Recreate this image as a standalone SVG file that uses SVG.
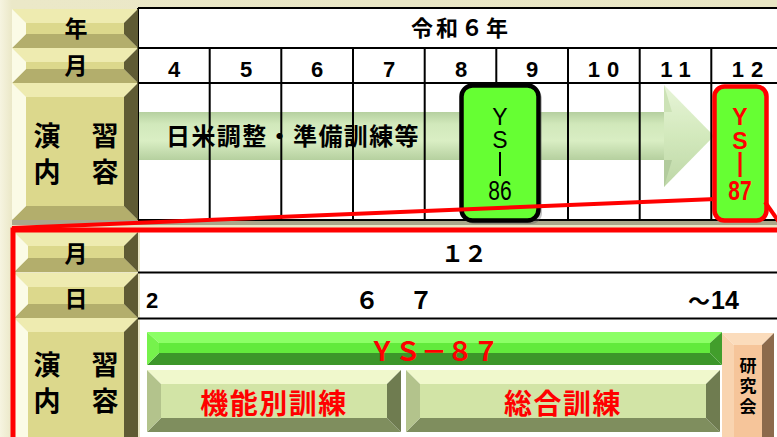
<svg xmlns="http://www.w3.org/2000/svg" width="777" height="437" viewBox="0 0 777 437">
<defs>
<linearGradient id="bg" x1="0" y1="0" x2="1" y2="0"><stop offset="0" stop-color="#f6f4e0"/><stop offset="0.015" stop-color="#ebe8c8"/><stop offset="1" stop-color="#e9e6c4"/></linearGradient>
<linearGradient id="arrowG" x1="0" y1="0" x2="0" y2="1"><stop offset="0" stop-color="#a3c488"/><stop offset="0.25" stop-color="#c6e3aa"/><stop offset="0.6" stop-color="#d0eab5"/><stop offset="1" stop-color="#a3c487"/></linearGradient>
<linearGradient id="headG" x1="0" y1="0" x2="0" y2="1"><stop offset="0" stop-color="#e2f2cf"/><stop offset="0.5" stop-color="#c8e4ac"/><stop offset="1" stop-color="#aecd92"/></linearGradient>
<style>
.jp{font-family:"Noto Sans CJK JP","Noto Sans",sans-serif;font-weight:bold}
.num{font-family:"Liberation Sans",Arial,sans-serif;font-weight:bold}
.lbl{font-size:23px;fill:#000;text-anchor:middle}
.big{font-size:27px;fill:#000;text-anchor:middle}
.grid{stroke:#000;stroke-width:2;fill:none}
.red{fill:#ff0000}
.kt{fill:#eeebb0}.kc{fill:#dcd88c}.kb{fill:#b3ae6c}.kl{fill:#fbfbe6}.kr{fill:#5f5b34}
.gt{fill:#8cff66}.gc{fill:#62ea3c}.gb{fill:#3c962a}.gl{fill:#76f24c}.gr{fill:#429e2c}
.lt{fill:#f0f8cc}.lc{fill:#d2e4a6}.lb{fill:#7f8e5e}.ll{fill:#b3c38c}.lr{fill:#6f7c50}
.pt{fill:#fbdcbc}.pc{fill:#f6c59a}.pb{fill:#ad7f5e}.pl{fill:#f9d4b0}.pr{fill:#8c6a4c}
</style>
</defs>
<rect x="0" y="0" width="777" height="437" fill="url(#bg)"/>

<!-- shadow under top section -->
<rect x="12" y="219" width="765" height="6" fill="#8f8c70" opacity="0.7"/>

<!-- top table -->
<g id="top-table">
<rect x="138" y="8" width="645" height="212" fill="#fff"/>
<g id="arrow" opacity="0.8">
<rect x="138" y="112" width="528" height="48" fill="url(#arrowG)"/>
<polygon points="664,85 714,136 664,187" fill="url(#headG)"/>
<polygon points="664,85 672,112 664,112" fill="#c0dca4"/>
<polygon points="664,187 672,160 664,160" fill="#9fbf85"/>
</g>
<line class="grid" x1="138" y1="8" x2="783" y2="8"/>
<line class="grid" x1="138" y1="48" x2="783" y2="48"/>
<line class="grid" x1="138" y1="83" x2="783" y2="83"/>
<line class="grid" x1="138" y1="220" x2="783" y2="220"/>
<line class="grid" x1="138" y1="8" x2="138" y2="220"/>
<path class="grid" d="M209.7 48V220M281.3 48V220M353 48V220M424.7 48V220M496.3 48V220M568 48V220M639.7 48V220M711.3 48V220"/>
<text class="jp" x="461" y="36" font-size="22" text-anchor="middle" letter-spacing="3">令和６年</text>
<g class="num" font-size="22" text-anchor="middle">
<text x="174" y="77">4</text><text x="246" y="77">5</text><text x="317" y="77">6</text><text x="389" y="77">7</text><text x="461" y="77">8</text><text x="532" y="77">9</text>
<text x="607" y="77" letter-spacing="7">10</text><text x="679" y="77" letter-spacing="7">11</text><text x="751" y="77" letter-spacing="7">12</text>
</g>
<text class="jp" x="166" y="145" font-size="24" letter-spacing="1.4">日米調整・準備訓練等</text>
</g>

<!-- top labels -->
<g id="lbl-year">
<polygon class="kt" points="12,9 138,9 124,23 26,23"/>
<rect class="kc" x="26" y="23" width="98" height="11"/>
<polygon class="kb" points="12,48 138,48 124,34 26,34"/>
<polygon class="kl" points="12,9 26,23 26,34 12,48"/>
<polygon class="kr" points="138,9 124,23 124,34 138,48"/>
<text class="jp lbl" x="76" y="37">年</text>
</g>
<g id="lbl-month">
<polygon class="kt" points="12,48 138,48 124,62 26,62"/>
<rect class="kc" x="26" y="62" width="98" height="7"/>
<polygon class="kb" points="12,83 138,83 124,69 26,69"/>
<polygon class="kl" points="12,48 26,62 26,69 12,83"/>
<polygon class="kr" points="138,48 124,62 124,69 138,83"/>
<text class="jp lbl" x="76" y="74">月</text>
</g>
<g id="lbl-content">
<polygon class="kt" points="12,83 138,83 124,97 26,97"/>
<rect class="kc" x="26" y="97" width="98" height="109"/>
<polygon class="kb" points="12,220 138,220 124,206 26,206"/>
<polygon class="kl" points="12,83 26,97 26,206 12,220"/>
<polygon class="kr" points="138,83 124,97 124,206 138,220"/>
<text class="jp big" x="47" y="146">演</text><text class="jp big" x="105" y="146">習</text>
<text class="jp big" x="47" y="182">内</text><text class="jp big" x="105" y="182">容</text>
</g>

<!-- YS-86 -->
<g id="ys86">
<rect x="464" y="88" width="78" height="136" rx="11" fill="#555" opacity="0.35"/>
<rect x="461.5" y="85.5" width="77" height="135" rx="11" fill="#66ff33" stroke="#000" stroke-width="4.5"/>
<g font-family="Liberation Sans, Arial, sans-serif" fill="#000" text-anchor="middle">
<text x="500" y="125" font-size="23">Y</text>
<text x="500" y="148" font-size="23">S</text>
<line x1="500" y1="152" x2="500" y2="176" stroke="#000" stroke-width="2"/>
<text transform="translate(500,200) scale(0.78,1)" font-size="27">86</text>
</g>
</g>

<!-- YS-87 -->
<g id="ys87">
<rect x="714.5" y="86.5" width="52" height="134" rx="10" fill="#66ff33" stroke="#ff0000" stroke-width="4.5"/>
<g font-family="Liberation Sans, Arial, sans-serif" font-weight="bold" fill="#ff0000" text-anchor="middle">
<text x="740" y="125" font-size="23">Y</text>
<text x="740" y="149" font-size="23">S</text>
<line x1="740" y1="152" x2="740" y2="177" stroke="#ff0000" stroke-width="3"/>
<text transform="translate(740,200) scale(0.78,1)" font-size="27">87</text>
</g>
</g>

<!-- bottom section -->
<g id="bottom-table">
<rect x="140" y="232" width="640" height="210" fill="#fff"/>
<line class="grid" x1="138" y1="272.5" x2="783" y2="272.5"/>
<line class="grid" x1="138" y1="318.5" x2="783" y2="318.5"/>
<text class="jp" x="464" y="262" font-size="23" text-anchor="middle" fill="#000">１２</text>
<text class="num" x="146" y="308" font-size="22">2</text>
<text class="jp" x="367" y="309" font-size="24" text-anchor="middle">６</text>
<text class="jp" x="421" y="309" font-size="24" text-anchor="middle">７</text>
<text class="jp" x="688" y="309" font-size="22">～<tspan font-family="Liberation Sans, Arial, sans-serif" font-size="25" dx="1">14</tspan></text>
</g>

<g id="lbl-b-month">
<polygon class="kt" points="14,232 138,232 124,246 28,246"/>
<rect class="kc" x="28" y="246" width="96" height="12"/>
<polygon class="kb" points="14,272 138,272 124,258 28,258"/>
<polygon class="kl" points="14,232 28,246 28,258 14,272"/>
<polygon class="kr" points="138,232 124,246 124,258 138,272"/>
<text class="jp lbl" x="76" y="262">月</text>
</g>
<g id="lbl-b-day">
<polygon class="kt" points="14,273 138,273 124,287 28,287"/>
<rect class="kc" x="28" y="287" width="96" height="17"/>
<polygon class="kb" points="14,318 138,318 124,304 28,304"/>
<polygon class="kl" points="14,273 28,287 28,304 14,318"/>
<polygon class="kr" points="138,273 124,287 124,304 138,318"/>
<text class="jp lbl" x="76" y="307">日</text>
</g>
<g id="lbl-b-content">
<polygon class="kt" points="14,318 138,318 124,332 28,332"/>
<rect class="kc" x="28" y="332" width="96" height="110"/>
<polygon class="kl" points="14,318 28,332 28,442 14,442"/>
<polygon class="kr" points="138,318 124,332 124,442 138,442"/>
<text class="jp big" x="47" y="375">演</text><text class="jp big" x="105" y="375">習</text>
<text class="jp big" x="47" y="411">内</text><text class="jp big" x="105" y="411">容</text>
</g>

<g id="bar-ys87">
<polygon class="gt" points="147,332 722,332 710,343 159,343"/>
<rect class="gc" x="159" y="343" width="551" height="10"/>
<polygon class="gb" points="147,365 722,365 710,353 159,353"/>
<polygon class="gl" points="147,332 159,343 159,353 147,365"/>
<polygon class="gr" points="722,332 710,343 710,353 722,365"/>
<text x="434" y="361" font-family="Noto Sans CJK JP, sans-serif" font-weight="bold" font-size="26" text-anchor="middle" class="red">ＹＳ－８７</text>
</g>
<g id="bar-kinou">
<polygon class="lt" points="147,370 401,370 387,384 161,384"/>
<rect class="lc" x="161" y="384" width="226" height="34"/>
<polygon class="lb" points="147,432 401,432 387,418 161,418"/>
<polygon class="ll" points="147,370 161,384 161,418 147,432"/>
<polygon class="lr" points="401,370 387,384 387,418 401,432"/>
<text class="jp red" x="274" y="414" font-size="28" text-anchor="middle" letter-spacing="1.5">機能別訓練</text>
</g>
<g id="bar-sougou">
<polygon class="lt" points="406,370 720,370 706,384 420,384"/>
<rect class="lc" x="420" y="384" width="286" height="34"/>
<polygon class="lb" points="406,432 720,432 706,418 420,418"/>
<polygon class="ll" points="406,370 420,384 420,418 406,432"/>
<polygon class="lr" points="720,370 706,384 706,418 720,432"/>
<text class="jp red" x="563" y="414" font-size="28" text-anchor="middle" letter-spacing="1.5">総合訓練</text>
</g>
<g id="box-kenkyu">
<polygon class="pt" points="722,333 774,333 762,345 734,345"/>
<rect class="pc" x="734" y="345" width="28" height="95"/>
<polygon class="pl" points="722,333 734,345 734,440 722,440"/>
<polygon class="pr" points="774,333 762,345 762,440 774,440"/>
<g class="jp" font-size="17" text-anchor="middle">
<text x="748" y="372">研</text><text x="748" y="392">究</text><text x="748" y="413">会</text>
</g>
</g>

<!-- zoom connectors -->
<g id="connectors" stroke="#ff0000" fill="none">
<line x1="12" y1="228" x2="716" y2="199" stroke-width="4"/>
<line x1="765" y1="202" x2="782" y2="226" stroke-width="4"/>
<rect x="13" y="230" width="800" height="230" stroke-width="5"/>
</g>
</svg>
